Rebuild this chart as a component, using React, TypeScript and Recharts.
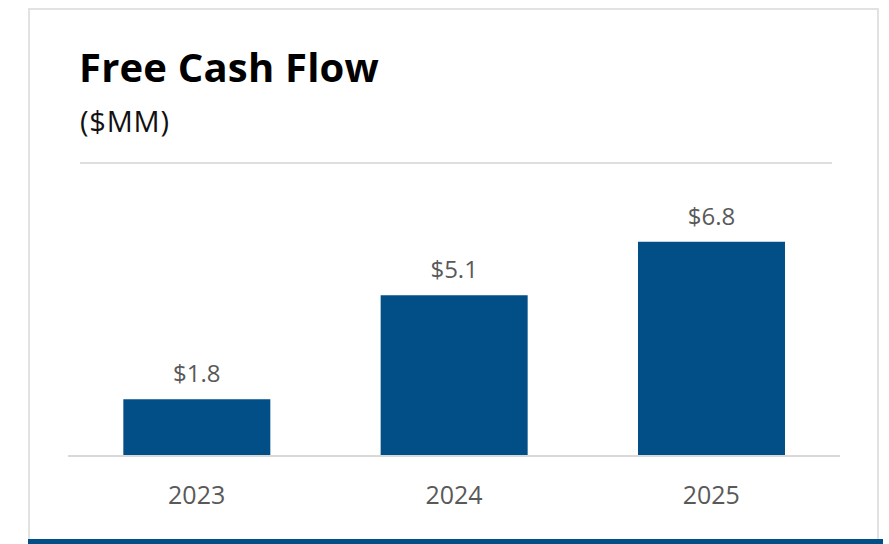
import React from "react";
import { BarChart, Bar, XAxis, YAxis, LabelList } from "recharts";

const years = ["2023", "2024", "2025"];
const freeCashFlow = [1.8, 5.1, 6.8];

const BLUE = "#024f87";
const FONT = "'Open Sans', 'Segoe UI', sans-serif";

const data = years.map((year, i) => ({ year, value: freeCashFlow[i] }));

export default function App() {
  return (
    <div
      style={{
        position: "absolute",
        left: 0,
        top: 0,
        width: 889,
        height: 544,
        overflow: "hidden",
        background: "#fff",
        fontFamily: FONT,
      }}
    >
      <div
        style={{
          position: "absolute",
          left: 28,
          top: 8,
          width: 851,
          height: 540,
          border: "2px solid #e2e2e2",
          borderBottom: "none",
          boxSizing: "border-box",
        }}
      />
      <div
        style={{
          position: "absolute",
          left: 28,
          top: 539,
          width: 855,
          height: 5,
          background: BLUE,
        }}
      />
      <div
        style={{
          position: "absolute",
          left: 79,
          top: 42,
          fontSize: 40,
          fontWeight: 700,
          color: "#000",
          lineHeight: "50px",
          letterSpacing: 0.2,
        }}
      >
        Free Cash Flow
      </div>
      <div
        style={{
          position: "absolute",
          left: 80,
          top: 103,
          fontSize: 29,
          color: "#111",
          lineHeight: "36px",
          letterSpacing: 0.8,
        }}
      >
        ($MM)
      </div>
      <div
        style={{
          position: "absolute",
          left: 80,
          top: 162,
          width: 752,
          height: 2,
          background: "#dedede",
        }}
      />
      <div style={{ position: "absolute", left: 0, top: 0 }}>
        <BarChart
          width={889}
          height={544}
          data={data}
          margin={{ top: 204, right: 49, bottom: 48, left: 68 }}
          barCategoryGap="21.5%"
        >
          <XAxis
            dataKey="year"
            axisLine={{ stroke: "#d9d9d9", strokeWidth: 2 }}
            tickLine={false}
            height={40}
            tickMargin={24}
            tick={{ fill: "#595959", fontSize: 25, fontFamily: FONT }}
          />
          <YAxis hide domain={[0, 8]} />
          <Bar dataKey="value" fill={BLUE} isAnimationActive={false}>
            <LabelList
              dataKey="value"
              position="top"
              offset={17}
              formatter={(v: number) => `$${v.toFixed(1)}`}
              style={{ fill: "#595959", fontSize: 24, fontFamily: FONT }}
            />
          </Bar>
        </BarChart>
      </div>
    </div>
  );
}
